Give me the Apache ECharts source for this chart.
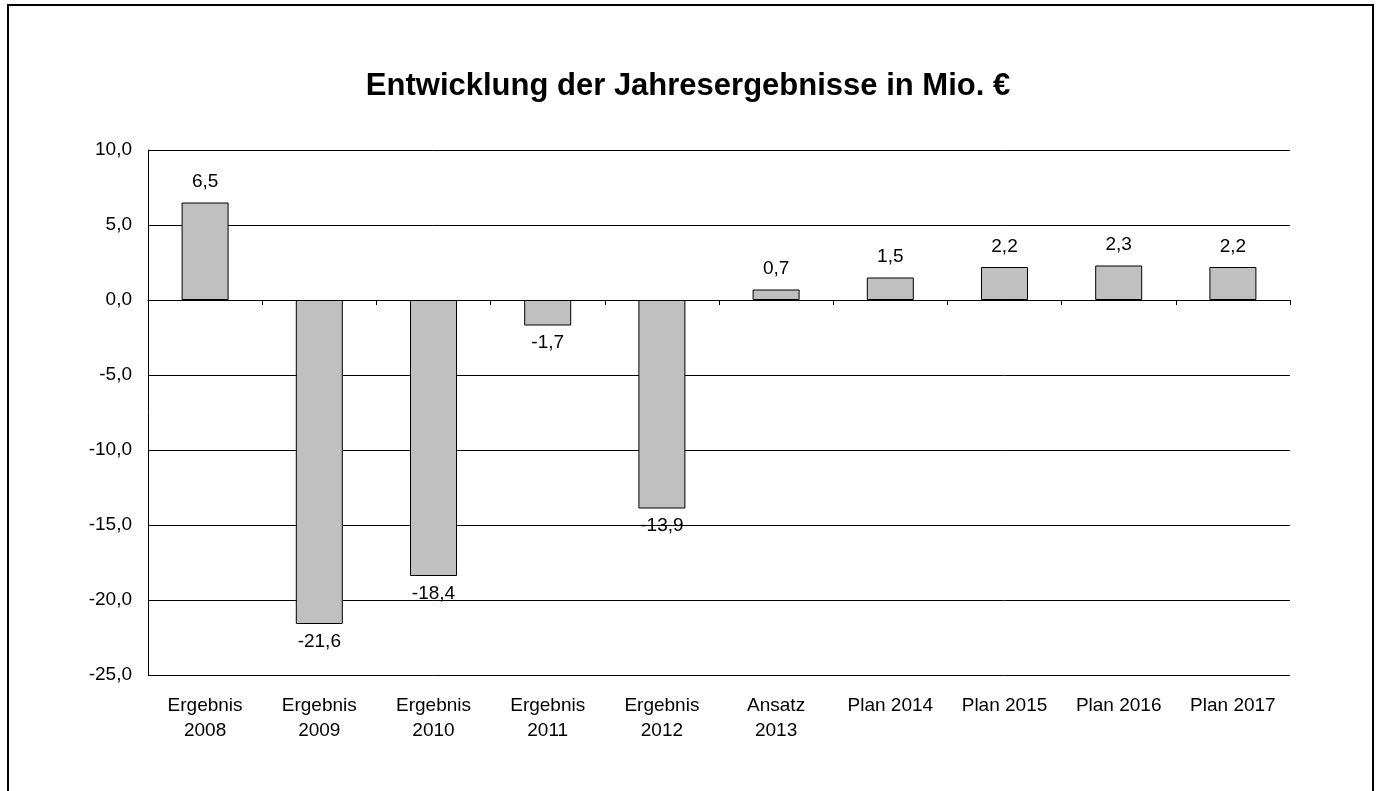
<!DOCTYPE html>
<html>
<head>
<meta charset="utf-8">
<script src="https://cdn.jsdelivr.net/npm/echarts@6/dist/echarts.min.js"></script>
<style>
  html, body { margin: 0; padding: 0; background: #fff; }
  #main { width: 1376px; height: 791px; }
</style>
</head>
<body>
<div id="main"></div>
<script>
// categories and values
var categories = ['Ergebnis\n2008', 'Ergebnis\n2009', 'Ergebnis\n2010', 'Ergebnis\n2011', 'Ergebnis\n2012',
  'Ansatz\n2013', 'Plan 2014', 'Plan 2015', 'Plan 2016', 'Plan 2017']
var results = [6.5, -21.6, -18.4, -1.7, -13.9, 0.7, 1.5, 2.2, 2.3, 2.2]

var font = 'Liberation Sans, Arial, sans-serif'

function deNum (v) {
  return Number(v).toFixed(1).replace('.', ',')
}

var chart = echarts.init(document.getElementById('main'))

chart.setOption({
  animation: false,
  backgroundColor: '#fff',
  textStyle: { fontFamily: font },
  title: {
    text: 'Entwicklung der Jahresergebnisse in Mio. €',
    left: 'center',
    top: 66,
    textStyle: { fontFamily: font, fontSize: 31, fontWeight: 'bold', color: '#000' }
  },
  graphic: [{
    type: 'rect',
    shape: { x: 8, y: 5, width: 1365, height: 820 },
    style: { fill: 'none', stroke: '#000', lineWidth: 2 },
    silent: true
  }],
  grid: { left: 148, right: 86, top: 150, bottom: 116 },
  xAxis: [
    {
      type: 'category',
      data: categories,
      axisLine: { onZero: true, lineStyle: { color: '#000', width: 1 } },
      axisTick: { show: true, inside: false, length: 5, lineStyle: { color: '#000' } },
      axisLabel: { show: false },
      splitLine: { show: false }
    },
    {
      type: 'category',
      data: categories,
      position: 'bottom',
      axisLine: { show: false, onZero: false },
      axisTick: { show: false },
      axisLabel: {
        show: true, interval: 0, margin: 18,
        fontFamily: font, fontSize: 19, lineHeight: 25, color: '#000'
      }
    }
  ],
  yAxis: {
    type: 'value',
    min: -25,
    max: 10,
    interval: 5,
    axisLine: { show: true, lineStyle: { color: '#000', width: 1 } },
    axisTick: { show: false },
    axisLabel: {
      margin: 16, fontFamily: font, fontSize: 19, color: '#000',
      formatter: deNum
    },
    splitLine: { show: true, lineStyle: { color: '#000', width: 1 } }
  },
  series: [{
    type: 'bar',
    xAxisIndex: 0,
    barWidth: 47,
    itemStyle: { color: '#c0c0c0', borderColor: '#000', borderWidth: 1 },
    data: results.map(function (v) {
      return {
        value: v,
        label: {
          show: true,
          position: v < 0 ? 'bottom' : 'top',
          distance: v < 0 ? 8 : 11,
          fontFamily: font, fontSize: 19, color: '#000',
          formatter: function (p) { return deNum(p.value) }
        }
      }
    })
  }]
})
</script>
</body>
</html>
